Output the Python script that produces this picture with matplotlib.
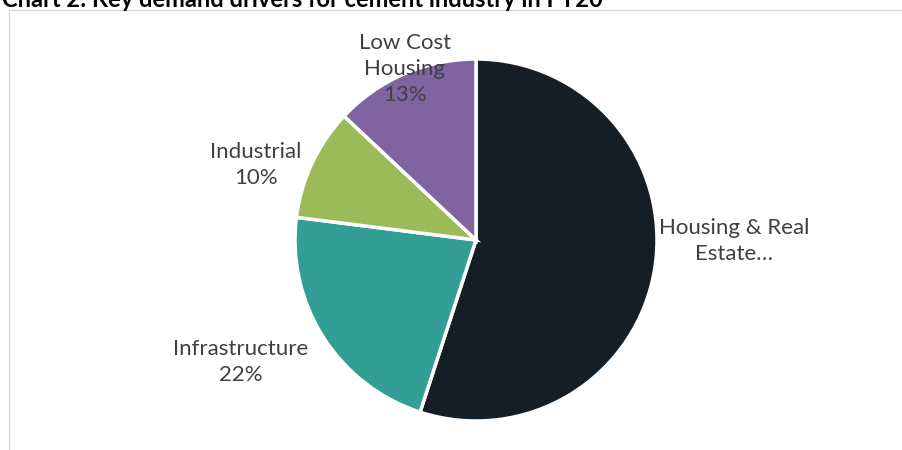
import matplotlib
matplotlib.use("Agg")
import matplotlib.pyplot as plt
from matplotlib.lines import Line2D

# data
categories = ["Housing & Real Estate", "Infrastructure", "Industrial", "Low Cost Housing"]
shares = [55, 22, 10, 13]
colors = ["#141E26", "#339E94", "#9BBB59", "#8064A2"]
label_texts = ["Housing & Real\nEstate…", "Infrastructure\n22%", "Industrial\n10%", "Low Cost\nHousing\n13%"]

plt.rcParams["font.family"] = ["Lato", "DejaVu Sans"]

fig = plt.figure(figsize=(9.03, 4.5), dpi=100)
ax = fig.add_axes([0, 0, 1, 1])
ax.set_xlim(0, 903)
ax.set_ylim(0, 450)
ax.set_aspect("equal")
ax.axis("off")

# pie, clockwise from 12 o'clock
ax.pie(shares, colors=colors, startangle=90, counterclock=False,
       center=(476, 210), radius=181,
       wedgeprops=dict(edgecolor="white", linewidth=2.5))
ax.set_xlim(0, 903)
ax.set_ylim(0, 450)

# labels
label_pos = [(734, 209), (241, 88), (256, 285), (405, 381)]
for txt, (x, y) in zip(label_texts, label_pos):
    ax.text(x, y, txt, ha="center", va="center", fontsize=16,
            color="#404040", linespacing=1.35)

# chart frame (clipped at figure edge)
fig.add_artist(Line2D([9 / 903, 9 / 903], [0, 1 - 10 / 450], transform=fig.transFigure,
                      color="#D9D9D9", lw=1))
fig.add_artist(Line2D([9 / 903, 1], [1 - 10 / 450, 1 - 10 / 450], transform=fig.transFigure,
                      color="#D9D9D9", lw=1))

# title, partly cut off by the top edge
fig.text(0.002, 1 + 1 / 450, "Chart 2: Key demand drivers for cement industry in FY20",
         ha="left", va="center", fontsize=17, fontweight="bold", color="black")

fig.savefig("out.png", dpi=100)
